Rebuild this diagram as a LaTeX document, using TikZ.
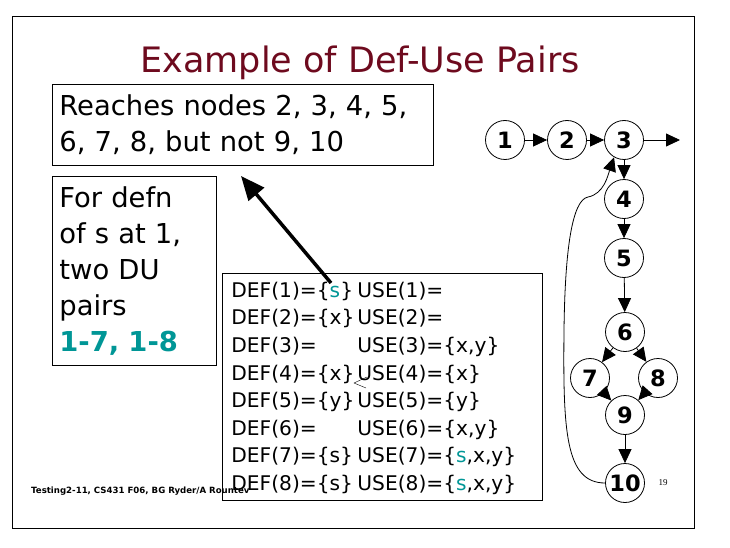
\documentclass[tikz,border=0pt]{standalone}
\usepackage{fontspec}
\setmainfont{DejaVu Sans}
\newfontfamily\numfont{Liberation Serif}
\usetikzlibrary{arrows.meta,matrix}
\definecolor{slidered}{RGB}{110,10,30}
\definecolor{duteal}{RGB}{0,150,150}
\tikzset{
  vertex/.style={draw,circle,minimum size=39pt,inner sep=0pt,line width=0.8pt,font=\fontsize{22.5}{22.5}\selectfont\bfseries},
  flow/.style={-{Triangle[length=14pt,width=13pt]},line width=0.8pt},
  textbox/.style={draw,line width=0.8pt,align=left,anchor=north west,inner xsep=7pt,font=\fontsize{27.4}{36}\selectfont}
}
\begin{document}
\begin{tikzpicture}[x=1pt,y=-1pt]
  \useasboundingbox (0,0) rectangle (730,548);
  \draw [line width=1pt] (12,17) rectangle (694,528);
  \node (title) [anchor=base,text=slidered,font=\fontsize{35}{35}\selectfont] at (360,73) {Example of Def-Use Pairs};
  \node (reach) [textbox,text width=367pt,minimum height=81pt] at (52,84) {Reaches nodes 2, 3, 4, 5,\\6, 7, 8, but not 9, 10};
  \node (defn) [textbox,text width=150pt,minimum height=189pt] at (52,176) {For defn\\of s at 1,\\two DU\\pairs\\{\color{duteal}\bfseries 1-7, 1-8}};
  \matrix (du) [matrix of nodes,draw,line width=0.8pt,anchor=north west,inner xsep=9pt,inner ysep=8pt,
    row sep=9.57pt,column sep=0pt,
    nodes={inner sep=0pt,text height=16pt,text depth=2pt,anchor=base west,font=\fontsize{20.2}{24}\selectfont},
    column 1/.style={nodes={text width=126pt}},
    column 2/.style={nodes={text width=176pt}}] at (222,273)
  {
    DEF(1)=\{{\color{duteal}s}\} & USE(1)= \\
    DEF(2)=\{x\}                 & USE(2)= \\
    DEF(3)=                      & USE(3)=\{x,y\} \\
    DEF(4)=\{x\}                 & USE(4)=\{x\} \\
    DEF(5)=\{y\}                 & USE(5)=\{y\} \\
    DEF(6)=                      & USE(6)=\{x,y\} \\
    DEF(7)=\{s\}                 & USE(7)=\{{\color{duteal}s},x,y\} \\
    DEF(8)=\{s\}                 & USE(8)=\{{\color{duteal}s},x,y\} \\
  };
  \coordinate (sdef) at (331,283);
  \coordinate (tip) at (241,176);
  \draw [-{Triangle[length=24pt,width=20pt]},line width=3.5pt] (sdef) -- (tip);
  \draw [line width=0.4pt] (367,377) -- (354,383) -- (366,388);
  \node (n1) [vertex] at (505,140) {1};
  \node (n2) [vertex] at (567,140) {2};
  \node (n3) [vertex] at (624,140) {3};
  \node (n4) [vertex] at (624,199) {4};
  \node (n5) [vertex] at (624,258) {5};
  \node (n6) [vertex] at (625,332) {6};
  \node (n7) [vertex] at (590,378) {7};
  \node (n8) [vertex] at (658,378) {8};
  \node (n9) [vertex] at (625,415) {9};
  \node (n10) [vertex] at (625,483) {10};
  \coordinate (exit) at (680,140);
  \foreach \a/\b in {n1/n2,n2/n3,n3/exit,n3/n4,n4/n5,n5/n6,n6/n7,n6/n8,n7/n9,n8/n9,n9/n10}
    \draw [flow] (\a) -- (\b);
  \draw [flow] (n10.west) .. controls (565,483) and (563,430) .. (564,330)
    .. controls (565,250) and (572,200) .. (588,197)
    .. controls (604,194) and (608,175) .. (n3.240);
  \node (foot) [anchor=base west,inner sep=0pt,font=\fontsize{8.6}{10}\selectfont\bfseries] at (31,493) {Testing2-11, CS431 F06, BG Ryder/A Rountev};
  \node (pnum) [font=\numfont\fontsize{9}{10}\selectfont] at (663,483) {19};
\end{tikzpicture}
\end{document}
